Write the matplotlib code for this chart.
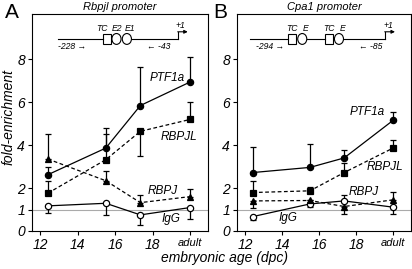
import numpy as np
import matplotlib
matplotlib.use('Agg')
import matplotlib.pyplot as plt
from matplotlib.patches import Rectangle, Ellipse

plt.rcParams['font.family'] = ['Liberation Sans', 'DejaVu Sans']

# x positions of the time points (adult drawn at 20)
ages = [12.4, 15.5, 17.35, 20]
tick_pos = [12, 14, 16, 18, 20]
tick_labels = ['12', '14', '16', '18', 'adult']

# panel A - Rbpjl promoter
a_ptf1a = [2.62, 3.86, 5.84, 6.93]
a_ptf1a_lo = [0, 0, 0, 0]
a_ptf1a_hi = [0.34, 0.94, 1.81, 1.17]
a_rbpjl = [1.76, 3.32, 4.64, 5.19]
a_rbpjl_lo = [0, 0, 1.14, 0]
a_rbpjl_hi = [0.55, 1.21, 0, 0.81]
a_rbpj = [3.35, 2.34, 1.32, 1.60]
a_rbpj_lo = [0, 0, 0, 0]
a_rbpj_hi = [1.18, 0.46, 0.36, 0.35]
a_igg = [1.17, 1.29, 0.75, 1.09]
a_igg_lo = [0.31, 0.54, 0.47, 0.52]
a_igg_hi = [0, 0, 0, 0]

# panel B - Cpa1 promoter
b_ptf1a = [2.72, 2.96, 3.40, 5.15]
b_ptf1a_lo = [0, 0, 0, 0]
b_ptf1a_hi = [1.19, 1.11, 0.35, 0.38]
b_rbpjl = [1.79, 1.87, 2.72, 3.86]
b_rbpjl_lo = [0, 0, 0, 0]
b_rbpjl_hi = [0.56, 0.20, 0.44, 0.36]
b_rbpj = [1.40, 1.42, 1.14, 1.45]
b_rbpj_lo = [0.34, 0, 0.35, 0]
b_rbpj_hi = [0, 0, 0, 0.36]
b_igg = [0.67, 1.26, 1.40, 1.11]
b_igg_lo = [0.16, 0.16, 0, 0.32]
b_igg_hi = [0, 0, 0.28, 0]

dash = (0, (3, 2))
styles = {
    'PTF1a': dict(ls='-', marker='o', mfc='black'),
    'RBPJL': dict(ls=dash, marker='s', mfc='black'),
    'RBPJ': dict(ls=dash, marker='^', mfc='black'),
    'IgG': dict(ls='-', marker='o', mfc='white'),
}

fig = plt.figure(figsize=(4.12, 2.69), dpi=100)
axA = fig.add_axes([32/412, 38/269, 176/412, 217/269])
axB = fig.add_axes([237/412, 38/269, 174/412, 217/269])


def draw_series(ax, name, y, lo, hi):
    st = styles[name]
    ax.errorbar(ages, y, yerr=[lo, hi], fmt='none', ecolor='black',
                elinewidth=0.9, capsize=2.5, capthick=0.9, zorder=3)
    ax.plot(ages, y, color='black', lw=0.9, linestyle=st['ls'],
            marker=st['marker'], ms=4.5, mfc=st['mfc'], mec='black',
            mew=0.9, zorder=4)


def style_axes(ax):
    ax.set_xlim(11.55, 20.97)
    ax.set_ylim(0, 10.1)
    ax.axhline(1, color='#aaaaaa', lw=0.8, zorder=1)
    ax.set_xticks(tick_pos)
    ax.set_xticklabels(tick_labels)
    ax.set_yticks([0, 1, 2, 4, 6, 8])
    for lab in ax.get_xticklabels() + ax.get_yticklabels():
        lab.set_fontstyle('italic')
        lab.set_fontsize(10)
    ax.get_xticklabels()[-1].set_fontsize(8)
    ax.tick_params(direction='out', length=3, width=0.8, pad=2)
    for sp in ax.spines.values():
        sp.set_linewidth(0.8)


def draw_promoter(ax, line_segs, squares, ellipses, arrow_x, labels):
    kw = dict(transform=ax.transAxes, clip_on=False)
    y0 = 0.885
    for x1, x2 in line_segs:
        ax.plot([x1, x2], [y0, y0], color='black', lw=0.8, **kw)
    for x in squares:
        ax.add_patch(Rectangle((x, y0 - 0.022), 0.047, 0.044, fill=False,
                               ec='black', lw=0.8, **kw))
    for x in ellipses:
        ax.add_patch(Ellipse((x, y0), 0.052, 0.05, fill=False,
                             ec='black', lw=0.8, **kw))
    x1, x2 = arrow_x
    ax.plot([x1, x1], [y0, 0.918], color='black', lw=0.8, **kw)
    ax.annotate('', xy=(x2, 0.918), xytext=(x1 - 0.002, 0.918),
                xycoords='axes fraction',
                arrowprops=dict(arrowstyle='-|>', lw=0.8, color='black',
                                mutation_scale=5, shrinkA=0, shrinkB=0))
    for txt, x, y in labels:
        ax.text(x, y, txt, transform=ax.transAxes, ha='center', va='center',
                fontsize=6.2, style='italic')


# ---- panel A
draw_series(axA, 'IgG', a_igg, a_igg_lo, a_igg_hi)
draw_series(axA, 'RBPJ', a_rbpj, a_rbpj_lo, a_rbpj_hi)
draw_series(axA, 'RBPJL', a_rbpjl, a_rbpjl_lo, a_rbpjl_hi)
draw_series(axA, 'PTF1a', a_ptf1a, a_ptf1a_lo, a_ptf1a_hi)
style_axes(axA)
for txt, x, y in [('PTF1a', 19.73, 7.1), ('RBPJL', 20.37, 4.39),
                  ('RBPJ', 19.36, 1.87), ('IgG', 19.47, 0.56)]:
    axA.text(x, y, txt, ha='right', va='center', fontsize=8.5, style='italic')
draw_promoter(axA, [(0.148, 0.403), (0.567, 0.830)], [0.403],
              [0.48, 0.539], (0.830, 0.885),
              [('TC', 0.400, 0.932), ('E2', 0.485, 0.932), ('E1', 0.556, 0.932),
               ('+1', 0.845, 0.948), ('-228 \u2192', 0.225, 0.85),
               ('\u2190 -43', 0.72, 0.85)])
axA.set_title('Rbpjl promoter', fontsize=8, style='italic', pad=3)
fig.text(9/412, 1 - 117/269, 'fold-enrichment', fontsize=10, style='italic',
         rotation=90, ha='center', va='center')
fig.text(5/412, 1 - 12/269, 'A', fontsize=15, va='center', ha='left')

# ---- panel B
draw_series(axB, 'IgG', b_igg, b_igg_lo, b_igg_hi)
draw_series(axB, 'RBPJ', b_rbpj, b_rbpj_lo, b_rbpj_hi)
draw_series(axB, 'RBPJL', b_rbpjl, b_rbpjl_lo, b_rbpjl_hi)
draw_series(axB, 'PTF1a', b_ptf1a, b_ptf1a_lo, b_ptf1a_hi)
style_axes(axB)
for txt, x, y, ha in [('PTF1a', 19.55, 5.56, 'right'), ('RBPJL', 20.53, 3.0, 'right'),
                      ('RBPJ', 19.23, 1.82, 'right'), ('IgG', 13.8, 0.61, 'left')]:
    axB.text(x, y, txt, ha=ha, va='center', fontsize=8.5, style='italic')
draw_promoter(axB, [(0.075, 0.293), (0.403, 0.506), (0.615, 0.851)],
              [0.293, 0.506], [0.375, 0.586], (0.851, 0.908),
              [('TC', 0.316, 0.932), ('E', 0.395, 0.932), ('TC', 0.530, 0.932),
               ('E', 0.606, 0.932), ('+1', 0.868, 0.948),
               ('-294 \u2192', 0.19, 0.85), ('\u2190 -85', 0.77, 0.85)])
axB.set_title('Cpa1 promoter', fontsize=8, style='italic', pad=3)
fig.text(213/412, 1 - 12/269, 'B', fontsize=15, va='center', ha='left')

fig.text(0.545, 1 - 258/269, 'embryonic age (dpc)', fontsize=10,
         style='italic', ha='center', va='center')

fig.savefig('out.png', dpi=100)
